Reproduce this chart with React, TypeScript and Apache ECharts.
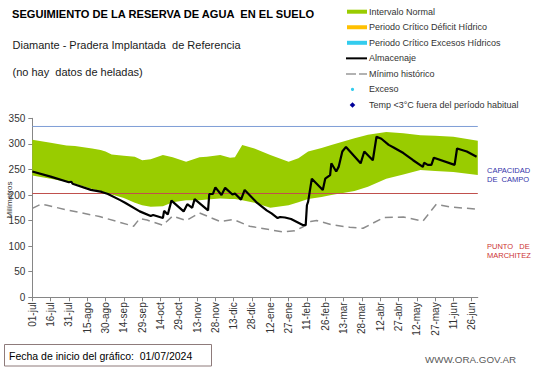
import React, { useEffect, useRef } from "react";
import * as echarts from "echarts";

const FONT = 'Arial, "Liberation Sans", sans-serif';

const tickLabels = [
  "01-jul", "16-jul", "31-jul", "15-ago", "30-ago", "14-sep", "29-sep", "14-oct", "29-oct",
  "13-nov", "28-nov", "13-dic", "28-dic", "12-ene", "27-ene", "11-feb", "26-feb", "13-mar",
  "28-mar", "12-abr", "27-abr", "12-may", "27-may", "11-jun", "26-jun",
];

// Intervalo normal (band): day index, lower and upper limits
const bandDays = [0, 15, 28, 35, 49, 56, 60, 65, 75, 84, 90, 97, 107, 115, 126, 137, 143, 154, 162, 166, 172, 182, 195, 210, 218, 226, 237, 245, 264, 275, 290, 304, 318, 330, 345, 365];
const bandLow = [238, 232, 226, 222, 212, 208, 204, 201, 194, 185, 180, 177, 178, 186, 190, 190, 191, 193, 192, 192, 190, 185, 175, 180, 186, 192, 196, 200, 208, 216, 232, 240, 249, 247, 245, 239];
const bandHigh = [308, 302, 297, 296, 291, 288, 285, 279, 277, 275, 268, 270, 278, 274, 265, 274, 275, 278, 273, 274, 298, 291, 278, 265, 272, 285, 292, 298, 311, 318, 323, 321, 317, 316, 314, 306];

// Almacenaje: [day, mm]
const almacenaje: [number, number][] = [
  [0, 246], [15, 236], [30, 225], [32, 226], [33, 222], [48, 210], [57, 206], [62, 202], [72, 190],
  [76, 185], [88, 168], [97, 159], [99, 161], [107, 155], [108, 169], [111, 162], [114, 189],
  [124, 168], [127, 182], [131, 175], [133, 192], [144, 170], [145, 202], [148, 202], [150, 215],
  [155, 200], [158, 214], [164, 201], [166, 203], [171, 191], [174, 210], [184, 185], [192, 170],
  [196, 164], [201, 155], [203, 157], [207, 156], [212, 153], [222, 141], [224, 141], [225, 180],
  [226, 187], [229, 232], [238, 210], [240, 232], [244, 239], [245, 262], [249, 246], [251, 255],
  [254, 285], [257, 294], [269, 262], [272, 285], [279, 268], [282, 314], [286, 310], [292, 298],
  [296, 293], [304, 282], [312, 268], [320, 255], [321, 263], [324, 259], [327, 259], [329, 273],
  [346, 259], [348, 291], [356, 285], [364, 275],
];

// Mínimo histórico: [day, mm]
const minimoHistorico: [number, number][] = [
  [0, 174], [7, 182], [12, 180], [28, 171], [55, 158], [83, 139], [88, 154], [94, 151], [107, 141],
  [115, 159], [126, 150], [137, 165], [154, 148], [165, 152], [178, 139], [195, 132], [205, 128],
  [215, 130], [222, 138], [228, 148], [233, 150], [245, 142], [260, 137], [271, 135], [288, 156],
  [304, 157], [320, 149], [331, 182], [342, 177], [365, 172],
];

const capacidadCampo = 334;
const puntoMarchitez = 203;

export default function App() {
  const ref = useRef<HTMLDivElement>(null);

  useEffect(() => {
    if (!ref.current) return;
    const chart = echarts.init(ref.current, null, { renderer: "svg" });

    const legendItems = [
      { kind: "rect", color: "#99CC00", text: "Intervalo Normal" },
      { kind: "rect", color: "#FFC000", text: "Periodo Crítico Déficit Hídrico" },
      { kind: "rect", color: "#33CCEE", text: "Periodo Crítico Excesos Hídricos" },
      { kind: "line", color: "#000000", text: "Almacenaje" },
      { kind: "dash", color: "#999999", text: "Mínimo histórico" },
      { kind: "dot", color: "#33CCEE", text: "Exceso" },
      { kind: "diamond", color: "#000099", text: "Temp <3°C fuera del período habitual" },
    ];

    const legendGraphics: any[] = [];
    legendItems.forEach((it, i) => {
      const y = 11.7 + i * 15.55;
      if (it.kind === "rect") {
        legendGraphics.push({ type: "rect", shape: { x: 347, y: y - 2, width: 20, height: 4 }, style: { fill: it.color } });
      } else if (it.kind === "line") {
        legendGraphics.push({ type: "line", shape: { x1: 346, y1: y, x2: 367, y2: y }, style: { stroke: it.color, lineWidth: 2 } });
      } else if (it.kind === "dash") {
        legendGraphics.push({ type: "line", shape: { x1: 346, y1: y, x2: 367, y2: y }, style: { stroke: it.color, lineWidth: 1.5, lineDash: [10, 3] } });
      } else if (it.kind === "dot") {
        legendGraphics.push({ type: "circle", shape: { cx: 352.5, cy: y, r: 1.6 }, style: { fill: it.color } });
      } else {
        legendGraphics.push({ type: "polygon", shape: { points: [[352.5, y - 2.8], [355.3, y], [352.5, y + 2.8], [349.7, y]] }, style: { fill: it.color } });
      }
      legendGraphics.push({
        type: "text", x: 369, y,
        style: { text: it.text, fill: "#333333", font: `9px ${FONT}`, verticalAlign: "middle", align: "left" },
      });
    });

    const bandData = bandDays.map((d, i) => [d, bandLow[i], bandHigh[i]]);

    chart.setOption({
      animation: false,
      backgroundColor: "#ffffff",
      grid: { left: 32.3, right: 63.2, top: 118.3, bottom: 70.7 },
      xAxis: {
        type: "value", min: 0, max: 365, interval: 15,
        axisLine: { lineStyle: { color: "#868686", width: 1 } },
        axisTick: { show: true, length: 4, lineStyle: { color: "#868686" } },
        splitLine: { show: false },
        axisLabel: {
          rotate: 90, fontSize: 10, color: "#333333", fontFamily: FONT, margin: 5,
          showMaxLabel: false,
          formatter: (v: number) => tickLabels[Math.round(v / 15)] ?? "",
        },
      },
      yAxis: {
        type: "value", min: 0, max: 350, interval: 50,
        axisLine: { show: true, lineStyle: { color: "#868686", width: 1 } },
        axisTick: { show: true, length: 4, lineStyle: { color: "#868686" } },
        splitLine: { show: false },
        axisLabel: { fontSize: 10, color: "#333333", fontFamily: FONT, margin: 7 },
      },
      series: [
        {
          name: "Intervalo Normal", type: "custom", data: bandData, silent: true,
          encode: { x: 0, y: [1, 2] },
          renderItem: (params: any, api: any) => {
            if (params.dataIndex !== 0) return null;
            const upper = bandData.map((p) => api.coord([p[0], p[2]]));
            const lower = bandData.map((p) => api.coord([p[0], p[1]])).reverse();
            return {
              type: "polygon",
              shape: { points: upper.concat(lower) },
              style: { fill: "#99CC00" },
            };
          },
          z: 1,
        },
        {
          name: "Capacidad de campo", type: "line", data: [[0, capacidadCampo], [365, capacidadCampo]],
          symbol: "none", lineStyle: { color: "#7F9ED6", width: 1 }, z: 2,
        },
        {
          name: "Punto de marchitez", type: "line", data: [[0, puntoMarchitez], [365, puntoMarchitez]],
          symbol: "none", lineStyle: { color: "#C0504D", width: 1.2 }, z: 2,
        },
        {
          name: "Mínimo histórico", type: "line", data: minimoHistorico, symbol: "none",
          lineStyle: { color: "#8C8C8C", width: 1.5, type: [8, 5] }, z: 3,
        },
        {
          name: "Almacenaje", type: "line", data: almacenaje, symbol: "none",
          lineStyle: { color: "#000000", width: 2.2 }, z: 4,
        },
      ],
      graphic: [
        {
          type: "text", x: 12, y: 13.5,
          style: { text: "SEGUIMIENTO DE LA RESERVA DE AGUA  EN EL SUELO", fill: "#000", font: `bold 11.1px ${FONT}`, verticalAlign: "middle" },
        },
        {
          type: "text", x: 12.5, y: 44.5,
          style: { text: "Diamante - Pradera Implantada  de Referencia", fill: "#1a1a1a", font: `11px ${FONT}`, verticalAlign: "middle" },
        },
        {
          type: "text", x: 12.5, y: 71.7,
          style: { text: "(no hay  datos de heladas)", fill: "#1a1a1a", font: `11px ${FONT}`, verticalAlign: "middle" },
        },
        {
          type: "text", x: 9, y: 200, rotation: Math.PI / 2,
          style: { text: "Milímetros", fill: "#333", font: `8px ${FONT}`, align: "center", verticalAlign: "middle" },
        },
        {
          type: "text", x: 487, y: 175,
          style: { text: "CAPACIDAD\nDE  CAMPO", fill: "#3333AA", font: `7.5px ${FONT}`, lineHeight: 8.5, verticalAlign: "middle" },
        },
        {
          type: "text", x: 487, y: 251,
          style: { text: "PUNTO   DE\nMARCHITEZ", fill: "#CC3333", font: `7.5px ${FONT}`, lineHeight: 8.5, verticalAlign: "middle" },
        },
        {
          type: "rect", shape: { x: 4.5, y: 344.5, width: 207, height: 21.5 },
          style: { fill: "none", stroke: "#8E7B7B", lineWidth: 1 },
        },
        {
          type: "text", x: 9, y: 355.5,
          style: { text: "Fecha de inicio del gráfico:  01/07/2024", fill: "#000", font: `10.5px ${FONT}`, verticalAlign: "middle" },
        },
        {
          type: "text", x: 516, y: 359.5,
          style: { text: "WWW.ORA.GOV.AR", fill: "#595959", font: `9.8px ${FONT}`, align: "right", verticalAlign: "middle" },
        },
        ...legendGraphics,
      ],
    });

    return () => chart.dispose();
  }, []);

  return <div ref={ref} style={{ width: 541, height: 368, position: "absolute", left: 0, top: 0 }} />;
}
